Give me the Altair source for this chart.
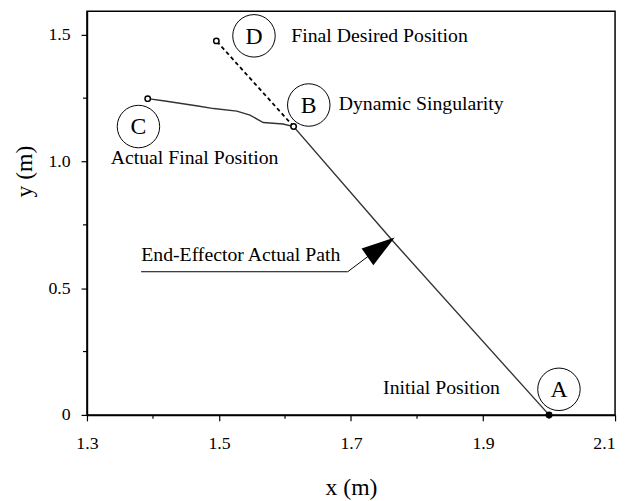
import altair as alt
import pandas as pd

# End-effector actual path (C -> B -> A)
path_x = [1.392, 1.418, 1.468, 1.492, 1.527, 1.547, 1.567, 1.597, 1.613, 1.762, 2.0]
path_y = [1.248, 1.239, 1.219, 1.209, 1.199, 1.183, 1.154, 1.148, 1.138, 0.690, 0.0]

# desired continuation (B -> D), dashed
desired_x = [1.613, 1.496]
desired_y = [1.138, 1.476]

# marker points A, B, C, D
marker_names = ["A", "B", "C", "D"]
marker_x = [2.0, 1.613, 1.392, 1.496]
marker_y = [0.0, 1.138, 1.248, 1.476]
marker_fill = ["black", "white", "white", "white"]

# circled letters
letter_names = ["A", "B", "C", "D"]
letter_x = [2.015, 1.636, 1.378, 1.553]
letter_y = [0.101, 1.223, 1.138, 1.496]

# annotation texts
label_texts = ["Final Desired Position", "Dynamic Singularity", "Actual Final Position",
               "End-Effector Actual Path", "Initial Position"]
label_x = [1.6095, 1.6813, 1.3359, 1.3822, 1.7486]
label_y = [1.4959, 1.2271, 1.0129, 0.6311, 0.1052]

# arrow (underline + shaft) and head
arrow_x = [1.382, 1.695, 1.726]
arrow_y = [0.565, 0.565, 0.626]
head_x = [1.744]
head_y = [0.659]

# axis ticks
x_major = [1.3, 1.5, 1.7, 1.9, 2.1]
x_minor = [1.4, 1.6, 1.8, 2.0]
y_major = [0, 0.5, 1.0, 1.5]
y_minor = [0.25, 0.75, 1.25]

FONT = "Liberation Serif"
xs = alt.Scale(domain=[1.3, 2.1], nice=False, zero=False)
ys = alt.Scale(domain=[0, 1.5933], nice=False, zero=False)

path_df = pd.DataFrame({"x": path_x, "y": path_y, "i": list(range(len(path_x)))})
desired_df = pd.DataFrame({"x": desired_x, "y": desired_y, "i": [0, 1]})
marker_df = pd.DataFrame({"x": marker_x, "y": marker_y, "n": marker_names, "f": marker_fill})
letter_df = pd.DataFrame({"x": letter_x, "y": letter_y, "t": letter_names})
label_df = pd.DataFrame({"x": label_x, "y": label_y, "t": label_texts})
arrow_df = pd.DataFrame({"x": arrow_x, "y": arrow_y, "i": list(range(len(arrow_x)))})
head_df = pd.DataFrame({"x": head_x, "y": head_y})
xminor_df = pd.DataFrame({"x": x_minor})
yminor_df = pd.DataFrame({"y": y_minor})

x_axis = alt.Axis(
    values=x_major, format=".1f", title="x  (m)", grid=False, tickSize=6,
    labelPadding=14, titleY=74, titleBaseline="middle",
    labelAlign={"condition": {"test": "datum.value >= 2.09", "value": "right"}, "value": "center"},
)
y_axis = alt.Axis(
    values=y_major, title="y (m)", grid=False, tickSize=6, labelPadding=11,
    labelExpr="datum.value == 0 ? '0' : format(datum.value, '.1f')",
    titleX=-63, titleY=162, titleBaseline="middle", titleAlign="center", titleAngle=270,
)

X = alt.X("x:Q", scale=xs, axis=x_axis)
Y = alt.Y("y:Q", scale=ys, axis=y_axis)

path = alt.Chart(path_df).mark_line(color="#333333", strokeWidth=1.4).encode(
    x=X, y=Y, order="i:Q")

desired = alt.Chart(desired_df).mark_line(color="black", strokeWidth=1.8, strokeDash=[4, 3]).encode(
    x=X, y=Y, order="i:Q")

markers = alt.Chart(marker_df).mark_point(shape="circle", size=30, filled=True,
                                          stroke="black", strokeWidth=1.5, opacity=1).encode(
    x=X, y=Y, fill=alt.Fill("f:N", scale=None))

rings = alt.Chart(letter_df).mark_point(shape="circle", size=1850, filled=False,
                                        stroke="black", strokeWidth=1, opacity=1).encode(
    x=X, y=Y)

letters = alt.Chart(letter_df).mark_text(font=FONT, fontSize=24, color="black",
                                         align="center", baseline="middle", dy=1).encode(
    x=X, y=Y, text="t:N")

labels = alt.Chart(label_df).mark_text(font=FONT, fontSize=20, color="black",
                                       align="left", baseline="middle").encode(
    x=X, y=Y, text="t:N")

arrow = alt.Chart(arrow_df).mark_line(color="black", strokeWidth=1).encode(
    x=X, y=Y, order="i:Q")

head = alt.Chart(head_df).mark_point(shape="M0,-1L0.61,1L-0.61,1Z", size=858, filled=True,
                                     fill="black", stroke="black", angle=54.6, opacity=1).encode(
    x=X, y=Y)

xminor = alt.Chart(xminor_df).mark_rule(color="black", strokeWidth=1.2).encode(
    x=X, y=alt.value(409), y2=alt.value(413))

yminor = alt.Chart(yminor_df).mark_rule(color="black", strokeWidth=1.2).encode(
    y=Y, x=alt.value(0), x2=alt.value(-4))

chart = alt.layer(
    path, desired, arrow, head, markers, rings, letters, labels, xminor, yminor
).properties(
    width=535, height=409,
    autosize=alt.AutoSizeParams(type="none"),
    padding={"left": 80, "top": 0, "right": 5, "bottom": 84},
).configure_view(
    stroke="black", strokeWidth=1.5
).configure_axis(
    domainColor="black", domainWidth=1.5, tickColor="black", tickWidth=1.2,
    labelFont=FONT, labelFontSize=18, labelColor="black",
    titleFont=FONT, titleFontSize=24, titleFontWeight="normal", titleColor="black",
)

chart.save("out.html", embed_options={"renderer": "svg", "actions": False})
